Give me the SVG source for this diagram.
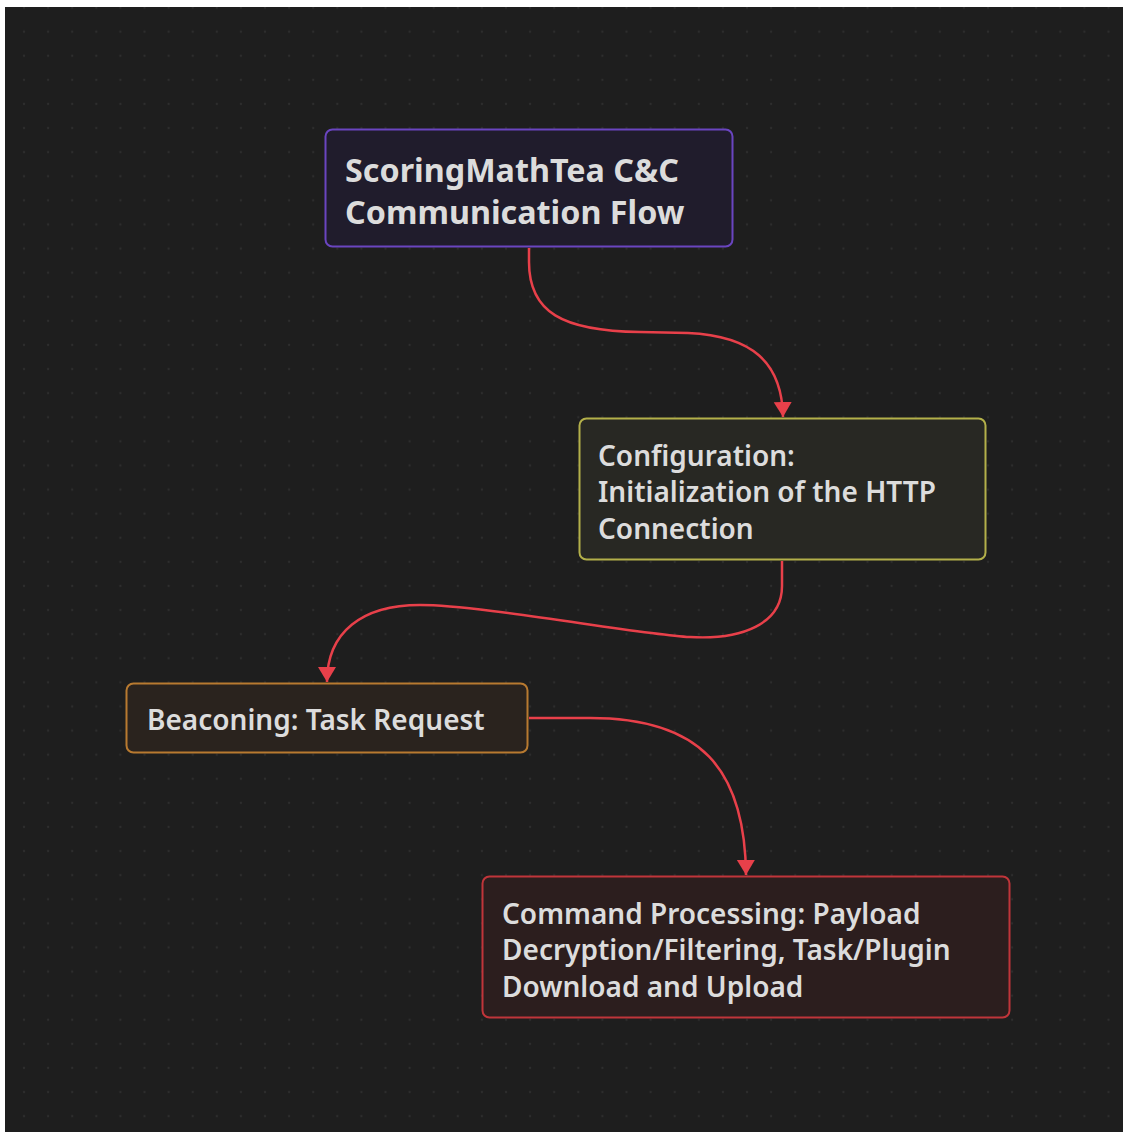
<svg xmlns="http://www.w3.org/2000/svg" width="1124" height="1134" viewBox="0 0 1124 1134">
  <style>
    .node rect { stroke-width: 2; }
    .label { font-family: "Noto Sans", "Open Sans", sans-serif; font-size: 28px; font-weight: 600; fill: #dcdcdc; }
    .title { font-family: "Noto Sans", "Open Sans", sans-serif; font-size: 32.3px; font-weight: 700; fill: #dcdcdc; }
    .edge { fill: none; stroke: #e8404a; stroke-width: 2.5; }
  </style>
  <defs>
    <pattern id="dots" patternUnits="userSpaceOnUse" x="24" y="7.6" width="24.1" height="24.1">
      <circle cx="0" cy="0" r="1.1" fill="#2e2e2e"/>
      <circle cx="24.1" cy="0" r="1.1" fill="#2e2e2e"/>
      <circle cx="0" cy="24.1" r="1.1" fill="#2e2e2e"/>
      <circle cx="24.1" cy="24.1" r="1.1" fill="#2e2e2e"/>
    </pattern>
    <marker id="arrow" markerUnits="userSpaceOnUse" markerWidth="20" markerHeight="20" refX="15" refY="9" orient="auto">
      <path d="M0,0 L15,9 L0,18 Z" fill="#e8404a"/>
    </marker>
  </defs>

  <!-- canvas -->
  <rect x="0" y="0" width="1124" height="1134" fill="#ffffff"/>
  <rect x="5" y="7" width="1118" height="1125" fill="#1e1e1e"/>
  <rect x="5" y="7" width="1118" height="1125" fill="url(#dots)"/>

  <!-- connectors -->
  <g id="edges">
    <path class="edge" d="M529,248 L529,262 C529,312 562,331 640,332 L688,333 C752,336 782,362 783,417" marker-end="url(#arrow)"/>
    <path class="edge" d="M782,561 L782,586 C782,624 742,640 690,637 C636,634 482,605 420,605 C362,605 327,632 327,682" marker-end="url(#arrow)"/>
    <path class="edge" d="M529,718 L590,718 C700,718 745,768 746,875" marker-end="url(#arrow)"/>
  </g>

  <!-- nodes -->
  <g id="node-title" class="node">
    <rect x="325.5" y="129.5" width="407" height="117" rx="7" fill="#201c2c" stroke="#6a45c0"/>
    <text class="title" x="345" y="182">ScoringMathTea C&amp;C</text>
    <text class="title" x="345" y="224">Communication Flow</text>
  </g>

  <g id="node-config" class="node">
    <rect x="579.5" y="418.5" width="406" height="141" rx="7" fill="#282823" stroke="#b3b04a"/>
    <text class="label" x="598" y="466">Configuration:</text>
    <text class="label" x="598" y="502">Initialization of the HTTP</text>
    <text class="label" x="598" y="539">Connection</text>
  </g>

  <g id="node-beacon" class="node">
    <rect x="126.5" y="683.5" width="401" height="69" rx="7" fill="#2a231e" stroke="#b87a30"/>
    <text class="label" x="147" y="730">Beaconing: Task Request</text>
  </g>

  <g id="node-command" class="node">
    <rect x="482.5" y="876.5" width="527" height="141" rx="7" fill="#2c1e1e" stroke="#c0353a"/>
    <text class="label" x="502" y="924">Command Processing: Payload</text>
    <text class="label" x="502" y="960">Decryption/Filtering, Task/Plugin</text>
    <text class="label" x="502" y="997">Download and Upload</text>
  </g>
</svg>
